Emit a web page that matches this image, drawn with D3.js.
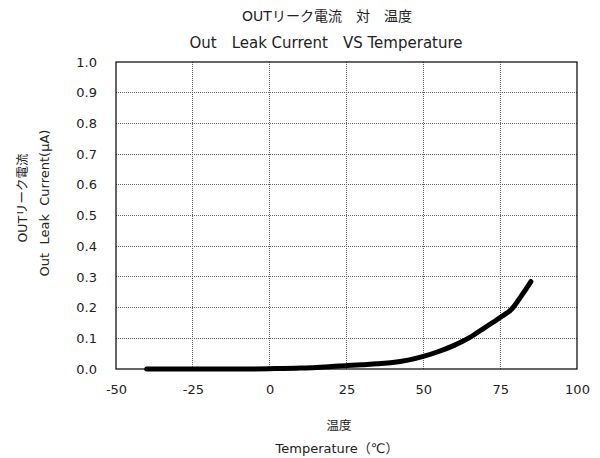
<!DOCTYPE html>
<html><head><meta charset="utf-8">
<script src="https://cdn.jsdelivr.net/npm/d3@7"></script>
<style>body{margin:0;background:#fff}svg text{font-family:"DejaVu Sans",Verdana,"Noto Sans CJK JP",sans-serif;fill:#222;white-space:pre}</style>
</head><body>
<script>
const temps = [-40,-30,-20,-10,0,10,20,25,30,35,40,45,50,55,60,65,70,75,79,82,85];
const leak  = [0.000,0.000,0.000,0.000,0.001,0.003,0.008,0.011,0.014,0.017,0.021,0.029,0.041,0.057,0.077,0.102,0.135,0.168,0.198,0.240,0.285];
const xTicks = [-50,-25,0,25,50,75,100];
const yTicks = [0,0.1,0.2,0.3,0.4,0.5,0.6,0.7,0.8,0.9,1.0];
const titleLines = ["OUTリーク電流　対　温度","Out　Leak Current　VS Temperature"];
const xTitle = ["温度","Temperature（℃）"];
const yTitle = ["OUTリーク電流","Out  Leak  Current(μA)"];

const W=600,H=458;
const m={l:116,r:23,t:62,b:89};
const svg=d3.select("body").append("svg").attr("width",W).attr("height",H);
const x=d3.scaleLinear().domain([-50,100]).range([m.l,W-m.r]);
const y=d3.scaleLinear().domain([0,1]).range([H-m.b,m.t]);

// grid
svg.append("g").selectAll("line").data(yTicks.slice(1,-1)).join("line")
 .attr("x1",x(-50)).attr("x2",x(100)).attr("y1",d=>y(d)).attr("y2",d=>y(d))
 .attr("stroke","#666").attr("stroke-width",1).attr("stroke-dasharray","1,1").attr("shape-rendering","crispEdges");
svg.append("g").selectAll("line").data(xTicks.slice(1,-1)).join("line")
 .attr("y1",y(0)).attr("y2",y(1)).attr("x1",d=>x(d)).attr("x2",d=>x(d))
 .attr("stroke","#666").attr("stroke-width",1).attr("stroke-dasharray","1,1").attr("shape-rendering","crispEdges");

// axes
const fmtX = d=>String(d);
const xa=svg.append("g").attr("transform",`translate(0,${y(0)})`)
 .call(d3.axisBottom(x).tickValues(xTicks).tickSize(0).tickPadding(16).tickFormat(fmtX));
const ya=svg.append("g").attr("transform",`translate(${x(-50)},0)`)
 .call(d3.axisLeft(y).tickValues(yTicks).tickSize(0).tickPadding(19).tickFormat(d3.format(".1f")));
[xa,ya].forEach(a=>{a.select(".domain").remove();a.selectAll("text").attr("font-size",13).attr("fill","#222");});

// frame
svg.append("rect").attr("x",x(-50)).attr("y",y(1)).attr("width",x(100)-x(-50)).attr("height",y(0)-y(1))
 .attr("fill","none").attr("stroke","#000").attr("stroke-width",1.2);

// line
svg.append("path").datum(temps.map((t,i)=>[t,leak[i]]))
 .attr("d",d3.line().x(d=>x(d[0])).y(d=>y(d[1])).curve(d3.curveMonotoneX))
 .attr("fill","none").attr("stroke","#000").attr("stroke-width",5).attr("stroke-linecap","round").attr("stroke-linejoin","round");

// titles
svg.append("text").attr("x",327).attr("y",21).attr("text-anchor","middle").attr("font-size",14).text(titleLines[0]);
svg.append("text").attr("x",326).attr("y",48).attr("text-anchor","middle").attr("font-size",15).text(titleLines[1]);
svg.append("text").attr("x",339).attr("y",430).attr("text-anchor","middle").attr("font-size",12.5).text(xTitle[0]);
svg.append("text").attr("x",337).attr("y",453).attr("text-anchor","middle").attr("font-size",13).text(xTitle[1]);
svg.append("text").attr("transform","translate(27,198) rotate(-90)").attr("text-anchor","middle").attr("font-size",12.5).text(yTitle[0]);
svg.append("text").attr("transform","translate(49,203) rotate(-90)").attr("text-anchor","middle").attr("font-size",13).text(yTitle[1]);
</script>
</body></html>
